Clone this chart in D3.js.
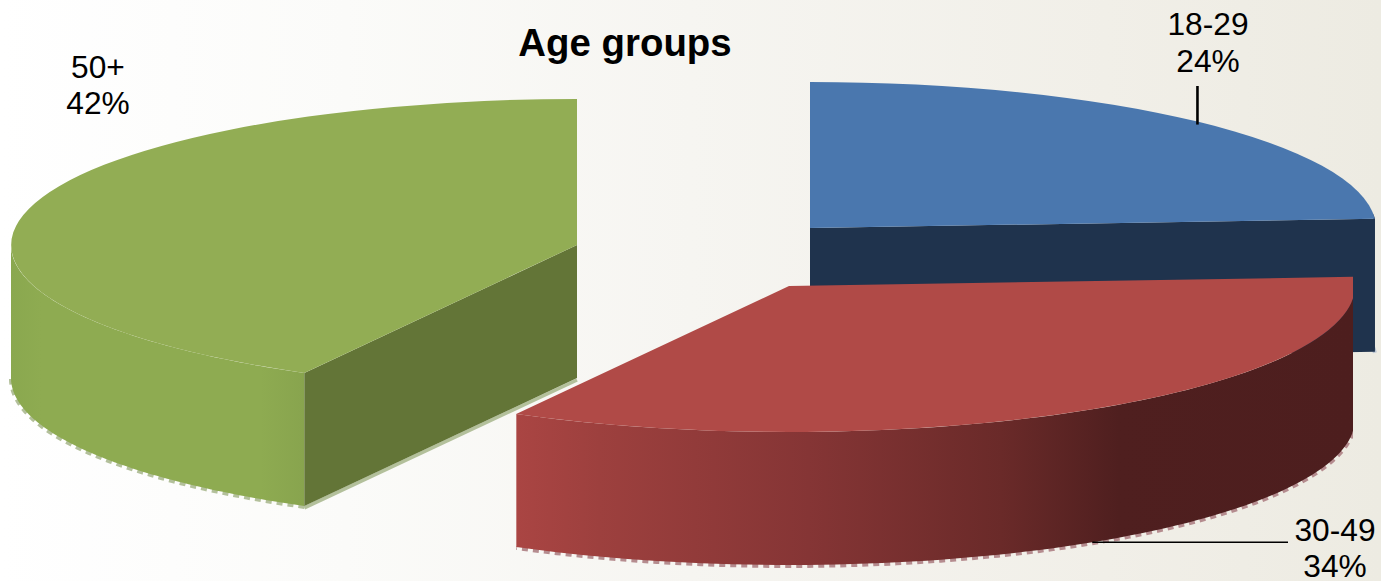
<!DOCTYPE html>
<html>
<head>
<meta charset="utf-8">
<script src="https://cdn.jsdelivr.net/npm/d3@7"></script>
<style>
html,body{margin:0;padding:0;background:#fff;overflow:hidden}
svg{display:block}
text{font-family:"Liberation Sans",Arial,sans-serif;fill:#000}
</style>
</head>
<body>
<svg id="chart" width="1381" height="581"></svg>
<script>
const title = "Age groups";
const categories = ["18-29", "30-49", "50+"];
const values = [24, 34, 42];
const valueLabels = ["24%", "34%", "42%"];

const W = 1381, H = 581;
const RX = 566, RY = 146, DEPTH = 133;
const layout = [
  {cx: 810, cy: 228, clipX: 1377, top: "#4a77ae", inner: "#1f334d", fringe: "#b9c4d2", wall: "#1f334d"},
  {cx: 789, cy: 286, clipX: 1353, top: "#b04a47", inner: "#7a2f2d", fringe: "#b58c8f", wall: "url(#wallRed)"},
  {cx: 577, cy: 245, clipX: 1381, top: "#92ad54", inner: "#637537", fringe: "#b3c09b", wall: "url(#wallGreen)"}
];
const labelPos = [
  {x: 1208, y: 35, dy: 37},
  {x: 1335, y: 541, dy: 36},
  {x: 98, y: 78, dy: 36}
];

const svg = d3.select("#chart");
const defs = svg.append("defs");

function gradient(id, stops, x1, x2) {
  const g = defs.append("linearGradient").attr("id", id)
    .attr("gradientUnits", "userSpaceOnUse")
    .attr("x1", x1).attr("x2", x2).attr("y1", 0).attr("y2", 0);
  stops.forEach(s => g.append("stop").attr("offset", s[0]).attr("stop-color", s[1]));
}
gradient("bg", [[0, "#ffffff"], [0.25, "#fbfbf9"], [0.5, "#f6f5f1"], [0.8, "#f1efe8"], [1, "#edebe2"]], 0, W);
gradient("wallRed", [[0, "#aa4543"], [0.1, "#9d403e"], [0.35, "#853535"], [0.58, "#6a2a29"], [0.72, "#4f1f1f"], [1, "#4d1e1e"]], 516, 1353);
gradient("wallGreen", [[0, "#8aa84f"], [0.1, "#8eab51"], [0.85, "#8eab51"], [1, "#88a44e"]], 12, 304);

svg.append("rect").attr("width", W).attr("height", H).attr("fill", "url(#bg)");

const pie = d3.pie().sort(null).value(d => d);
const arcs = pie(values);
const arcGen = d3.arc().innerRadius(0).outerRadius(1);

const px = (l, a) => l.cx + RX * Math.sin(a);
const py = (l, a) => l.cy - RY * Math.cos(a);

function sampleAngles(a0, a1) {
  return d3.range(0, 1.0001, 1 / 80).map(d3.scaleLinear([0, 1], [a0, a1]));
}
const wallArea = l => d3.area().x(a => px(l, a)).y0(a => py(l, a)).y1(a => py(l, a) + DEPTH);
const wallEdge = l => d3.line().x(a => px(l, a)).y(a => py(l, a) + DEPTH);

layout.forEach((l, i) => {
  defs.append("clipPath").attr("id", "clip" + i).append("rect")
    .attr("x", 0).attr("y", 0).attr("width", l.clipX).attr("height", H);
});

function drawSlice(i) {
  const d = arcs[i], l = layout[i];
  const g = svg.append("g").attr("clip-path", `url(#clip${i})`);
  const frontA0 = Math.max(d.startAngle, Math.PI / 2 - 0.1);
  const frontA1 = Math.min(d.endAngle, 3 * Math.PI / 2);

  // pale fringe along the lower edge of the wall
  if (frontA1 > frontA0) {
    const as = sampleAngles(frontA0, frontA1);
    g.append("path").attr("d", wallEdge(l)(as))
      .attr("transform", "translate(0,1)")
      .attr("fill", "none").attr("stroke", l.fringe)
      .attr("stroke-width", 4).attr("stroke-dasharray", "6 5");
    g.append("path").attr("d", wallArea(l)(as)).attr("fill", l.wall);
  }

  // flat cut faces that turn towards the viewer
  [d.startAngle, d.endAngle].forEach((a, k) => {
    const x = px(l, a), y = py(l, a);
    const visible = (i === 0 && k === 1) || (i === 2 && k === 0);
    if (!visible) return;
    const corners = [[l.cx, l.cy], [x, y], [x, y + DEPTH], [l.cx, l.cy + DEPTH]];
    if (i === 2) {
      g.append("path").attr("d", d3.line()(corners.slice(2)))
        .attr("transform", "translate(0,2)")
        .attr("fill", "none").attr("stroke", l.fringe).attr("stroke-width", 3.5);
    }
    g.append("path").attr("d", d3.line()(corners) + "Z").attr("fill", l.inner);
  });

  // top face
  g.append("path")
    .attr("d", arcGen(d))
    .attr("transform", `translate(${l.cx},${l.cy}) scale(${RX},${RY})`)
    .attr("fill", l.top);
}
[0, 2, 1].forEach(drawSlice);

// leader lines run from the middle of the slice rim towards the label
const mid = d => (d.startAngle + d.endAngle) / 2;
const a0 = mid(arcs[0]);
svg.append("line")
  .attr("x1", px(layout[0], a0)).attr("x2", px(layout[0], a0))
  .attr("y1", 86).attr("y2", py(layout[0], a0) + 3)
  .attr("stroke", "#000").attr("stroke-width", 2.6);
const a1 = mid(arcs[1]);
svg.append("line")
  .attr("x1", px(layout[1], a1)).attr("x2", 1288)
  .attr("y1", py(layout[1], a1) + DEPTH).attr("y2", py(layout[1], a1) + DEPTH)
  .attr("stroke", "#000").attr("stroke-width", 1.6);

svg.append("text").text(title)
  .attr("x", 625).attr("y", 56).attr("text-anchor", "middle")
  .attr("font-size", 38.4).attr("font-weight", "bold");

categories.forEach((c, i) => {
  const p = labelPos[i];
  const t = svg.append("text").attr("text-anchor", "middle").attr("font-size", 31.7);
  t.append("tspan").attr("x", p.x).attr("y", p.y).text(c);
  t.append("tspan").attr("x", p.x).attr("y", p.y + p.dy).text(valueLabels[i]);
});
</script>
</body>
</html>
